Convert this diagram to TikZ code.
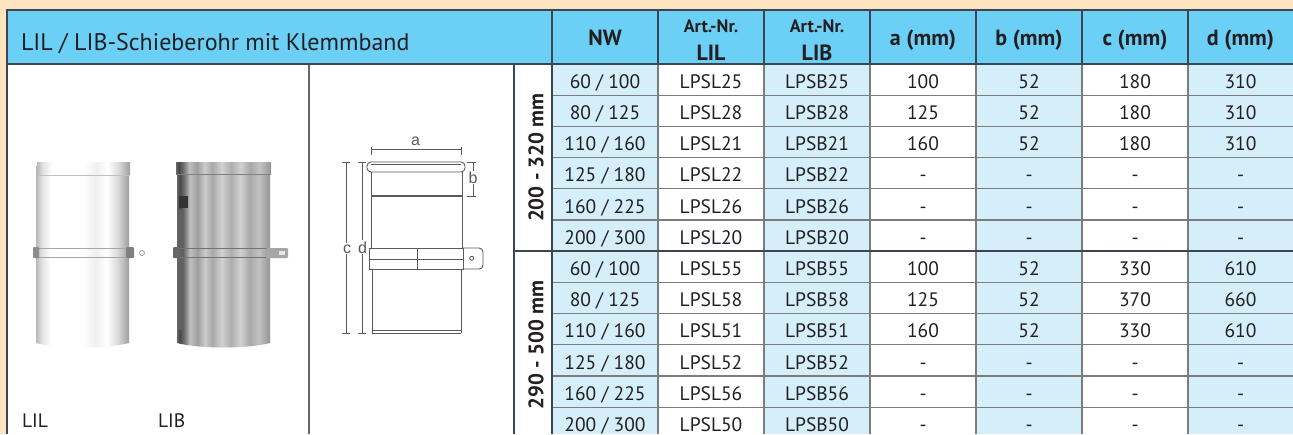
\documentclass[tikz,border=0pt]{standalone}
\usepackage{fontspec}
\setmainfont{PT Sans}
\newfontfamily\dimfont{Liberation Sans}
\definecolor{bgc}{HTML}{FFE4C0}
\definecolor{hdrc}{HTML}{6BCFF6}
\definecolor{lbc}{HTML}{D4EEFA}
\definecolor{txtc}{HTML}{231F20}
\definecolor{gridc}{HTML}{7C7C7C}
\definecolor{framec}{HTML}{3C4550}
\definecolor{techc}{HTML}{5A5A5A}
\pgfdeclarehorizontalshading{lilsh}{100bp}{color(0bp)=(black!28); color(25bp)=(black!28); color(28bp)=(black!12); color(33bp)=(white); color(50bp)=(white); color(57bp)=(black!6); color(63bp)=(white); color(69bp)=(black!15); color(75bp)=(black!38); color(100bp)=(black!38)}
\pgfdeclarehorizontalshading{libsh}{100bp}{color(0bp)=(black!60); color(25bp)=(black!60); color(26.5bp)=(black!72); color(29bp)=(black!55); color(32bp)=(black!25); color(36bp)=(black!38); color(40bp)=(black!20); color(44bp)=(black!34); color(49bp)=(black!18); color(54bp)=(black!32); color(59bp)=(black!18); color(64bp)=(black!34); color(69bp)=(black!24); color(75bp)=(black!42); color(100bp)=(black!42)}
\newcommand{\nwv}[2]{#1 / #2}
\begin{document}
\begin{tikzpicture}[x=1pt,y=-1pt,
  every node/.style={inner sep=0pt, outer sep=0pt, text=txtc},
  cell/.style={font=\fontsize{19.5}{19.5}\selectfont, anchor=base, text depth=0pt},
  hdbig/.style={font=\bfseries\fontsize{22}{22}\selectfont, anchor=base},
  hdsmall/.style={font=\bfseries\fontsize{18}{18}\selectfont, anchor=base},
  grp/.style={font=\bfseries\fontsize{21}{21}\selectfont, rotate=90},
  gline/.style={draw=gridc, line width=1.2pt},
  fline/.style={draw=framec, line width=1.7pt},
  tech/.style={draw=techc, line width=0.9pt},
  dimlab/.style={font=\dimfont\fontsize{16}{16}\selectfont, anchor=base, fill=white, inner sep=1pt, text=techc}
]
\useasboundingbox (0,0) rectangle (1293,434);
\fill[bgc] (0,0) rectangle (1293,434);
\fill[hdrc] (7,10) rectangle (1293,64);
\fill[white] (7,64) rectangle (1293,434);
\foreach \x in {552,764,976,1188} \fill[lbc] (\x,64) rectangle ++(106,370);

% grid
\foreach \i in {1,2,3,4,5,7,8,9,10,11} \draw[gline] (552,{64+31.2*\i}) -- (1293,{64+31.2*\i});
\foreach \x in {658,764,870,976,1082,1188} \draw[gline] (\x,64) -- (\x,434);
\foreach \x in {658,764,870,976,1082,1188} \draw[fline, line width=1.3pt] (\x,10) -- (\x,64);
\draw[fline] (552,10) -- (552,434);
\draw[fline] (514,64) -- (514,434);
\draw[fline, draw=black!60] (309,64) -- (309,434);
\draw[fline] (514,251.2) -- (1293,251.2);
\draw[fline] (7,64) -- (1293,64);
\draw[fline] (1293,10) -- (7,10) -- (7,434);

% header
\node[font=\fontsize{24}{24}\selectfont, anchor=base west] (title) at (21,50) {LIL / LIB-Schieberohr mit Klemmband};
\node[hdbig] (hnw) at (605,45.7) {NW};
\node[hdsmall] (hart1) at (711,32) {Art.-Nr.};
\node[hdbig] (hlil) at (711,60) {LIL};
\node[hdsmall] (hart2) at (817,32) {Art.-Nr.};
\node[hdbig] (hlib) at (817,60) {LIB};
\node[hdbig] (ha) at (923,45.7) {a (mm)};
\node[hdbig] (hb) at (1029,45.7) {b (mm)};
\node[hdbig] (hc) at (1135,45.7) {c (mm)};
\node[hdbig] (hd) at (1240.5,45.7) {d (mm)};

% group labels
\node[grp] (g1) at (536,157.6) {200 - 320 mm};
\node[grp] (g2) at (536,344.8) {290 - 500 mm};

% rows
\foreach \nw/\ll/\lb/\va/\vb/\vc/\vd [count=\r from 0] in {
 \nwv{60}{100}/LPSL25/LPSB25/100/52/180/310,
 \nwv{80}{125}/LPSL28/LPSB28/125/52/180/310,
 \nwv{110}{160}/LPSL21/LPSB21/160/52/180/310,
 \nwv{125}{180}/LPSL22/LPSB22/-/-/-/-,
 \nwv{160}{225}/LPSL26/LPSB26/-/-/-/-,
 \nwv{200}{300}/LPSL20/LPSB20/-/-/-/-,
 \nwv{60}{100}/LPSL55/LPSB55/100/52/330/610,
 \nwv{80}{125}/LPSL58/LPSB58/125/52/370/660,
 \nwv{110}{160}/LPSL51/LPSB51/160/52/330/610,
 \nwv{125}{180}/LPSL52/LPSB52/-/-/-/-,
 \nwv{160}{225}/LPSL56/LPSB56/-/-/-/-,
 \nwv{200}{300}/LPSL50/LPSB50/-/-/-/-}{
 \pgfmathsetmacro\yb{64+31.2*\r+24.3}
 \node[cell] (nw\r) at (605,\yb) {\nw};
 \node[cell] (ll\r) at (711,\yb) {\ll};
 \node[cell] (lb\r) at (817,\yb) {\lb};
 \node[cell] (va\r) at (923,\yb) {\va};
 \node[cell] (vb\r) at (1029,\yb) {\vb};
 \node[cell] (vc\r) at (1135,\yb) {\vc};
 \node[cell] (vd\r) at (1240.5,\yb) {\vd};
}

% photo LIL
\shade[shading=lilsh] (36,166) -- (36,343) .. controls (60,349) and (105,349) .. (129,343) -- (129,166) -- cycle;
\shade[shading=lilsh] (37,162) rectangle (130,175);
\draw[black!25, line width=0.6pt] (37,175) -- (130,175);
\draw[black!35, line width=0.8pt] (36,248) -- (129,248);
\draw[black!35, line width=0.8pt] (36,257) -- (129,257);
\fill[black!45, rounded corners=1pt] (33,247) rectangle (39,258);
\fill[black!50, rounded corners=1pt] (126,247) rectangle (134,258);
\draw[black!40, line width=0.8pt] (142,253) circle[radius=2.5];
\node[cell, anchor=base west] (plil) at (22,427) {LIL};

% photo LIB
\shade[shading=libsh] (177,165) -- (177,343) .. controls (200,349) and (247,349) .. (270,343) -- (270,165) -- cycle;
\shade[shading=libsh] (176,162) rectangle (271,174);
\draw[black!50, line width=0.6pt] (176,174) -- (271,174);
\fill[black!80] (179,196) rectangle (188,208);
\fill[black!62] (178,210) rectangle (184,330);
\draw[black!55, line width=0.8pt] (177,248) -- (270,248);
\draw[black!55, line width=0.8pt] (177,257) -- (270,257);
\fill[black!60, rounded corners=1pt] (173,247) rectangle (180,258);
\fill[black!35, rounded corners=1pt] (266,248) rectangle (288,258);
\fill[black!10] (279,251) rectangle (285,255);
\node[cell, anchor=base west] (plib) at (158,427) {LIB};

% technical drawing
\draw[tech] (371,146.5) -- (371,155) (461,146.5) -- (461,155) (371,149.3) -- (461,149.3);
\node[dimlab, fill=none] (la) at (415.5,145) {a};
\draw[tech] (473,162) -- (473,196) (467,162) -- (476,162) (467,196) -- (476,196);
\node[dimlab] (lbl) at (473,183.3) {b};
\draw[tech] (346,162) -- (346,333) (342,162) -- (350,162) (342,333) -- (350,333);
\node[dimlab] (lc) at (347,253) {c};
\draw[tech] (362,162) -- (362,333) (358,162) -- (366,162) (358,333) -- (366,333);
\node[dimlab] (ld) at (362.5,253) {d};
\draw[tech, rounded corners=4pt] (367,162) rectangle (465,172);
\draw[tech] (371,164.5) -- (461,164.5);
\draw[tech] (371,172) -- (371,248) (462,172) -- (462,248);
\draw[tech, line width=1.6pt] (371,196) -- (462,196);
\draw[tech] (369,248) rectangle (463,269);
\draw[tech] (369,259.5) -- (463,259.5) (417,248) -- (417,269);
\draw[tech, rounded corners=4pt] (463,248) -- (483,248) -- (483,269) -- (463,269);
\draw[tech] (471.7,258.3) circle[radius=2];
\draw[tech] (372,269) -- (372,333) (461,269) -- (461,333) (372,333) -- (461,333) (372,330.5) -- (461,330.5);
\end{tikzpicture}
\end{document}
